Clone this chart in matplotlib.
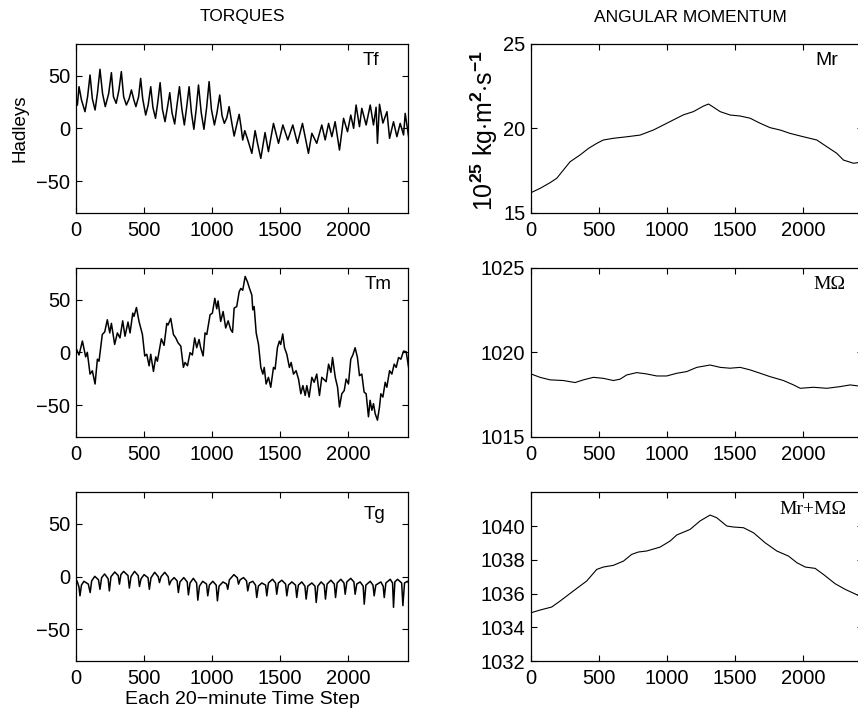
import matplotlib
matplotlib.use('Agg')
import matplotlib.pyplot as plt

plt.rcParams['font.family'] = ['Liberation Sans', 'DejaVu Sans']
plt.rcParams['mathtext.fontset'] = 'custom'
plt.rcParams['mathtext.rm'] = 'Liberation Sans'
plt.rcParams['mathtext.bf'] = 'Liberation Sans:bold'
plt.rcParams['axes.linewidth'] = 0.9

# ---------------- data (time step, value) ----------------
tf_t = [0, 10, 22, 40, 66, 85, 103, 120, 140, 158, 176, 195, 215, 240, 260, 275, 295, 315,
        333, 350, 370, 390, 407, 425, 440, 460, 475, 490, 512, 530, 549, 565, 584, 600,
        618, 635, 654, 672, 689, 705, 725, 742, 760, 778, 796, 813, 831, 848, 866, 883,
        900, 920, 940, 960, 978, 995, 1017, 1036, 1056, 1073, 1090, 1108, 1125, 1145,
        1162, 1180, 1199, 1212, 1225, 1240, 1260, 1292, 1316, 1335, 1358, 1389, 1414,
        1451, 1488, 1520, 1556, 1593, 1627, 1664, 1708, 1733, 1769, 1806, 1831, 1856,
        1880, 1904, 1936, 1966, 1995, 2019, 2040, 2058, 2083, 2100, 2132, 2162, 2186,
        2205, 2215, 2230, 2255, 2285, 2304, 2333, 2358, 2382, 2407, 2419, 2444]
tf_v = [29, 22, 39.5, 27, 15.8, 30, 50.6, 28, 17.4, 34, 56.0, 33, 20.6, 33, 52.8, 30,
        23.7, 36, 53.8, 30, 22.1, 28, 36.4, 27, 20.6, 30, 47.4, 28, 12.6, 22, 39.5, 20,
        9.5, 24, 43.3, 18, 6.3, 20, 33.8, 15, 4.1, 22, 39.5, 18, 3.2, 20, 39.5, 15, -0.9,
        18, 41.1, 15, -0.9, 20, 44.3, 18, 3.2, 15, 31.6, 12, 4.7, 10, 20.6, 5, -7.3, 3,
        13.3, 2, -11.1, -2.2, -10, -23.7, -2.2, -15, -28.5, -4.0, -22.1, 4.7, -14.2, 3.2,
        -11.0, 3.2, -14.2, 4.7, -23.7, -4.7, -14.2, 3.2, -11.0, 4.7, -7.9, 6.3, -20.6,
        9.5, -3.2, 12.6, 0.0, 22.1, 1.6, 19.0, 3.2, 22.1, 3.2, 20.0, -14.2, 22.8, 5.0,
        15.8, -9.5, 6.3, -7.9, 4.7, -6.3, 14.2, -7.9]

tm_t = [0, 22, 47, 71, 83, 103, 120, 140, 157, 169, 193, 211, 230, 248, 260, 284, 304,
        323, 343, 360, 382, 397, 417, 426, 444, 463, 488, 505, 520, 537, 549, 569, 586,
        598, 627, 647, 667, 676, 696, 716, 733, 750, 770, 789, 801, 819, 838, 855, 872,
        887, 904, 916, 934, 948, 961, 985, 1002, 1020, 1034, 1044, 1063, 1081, 1100,
        1118, 1137, 1150, 1162, 1181, 1199, 1211, 1225, 1243, 1260, 1275, 1292, 1299,
        1309, 1324, 1341, 1358, 1373, 1383, 1397, 1414, 1431, 1451, 1463, 1480, 1494,
        1504, 1519, 1532, 1549, 1568, 1581, 1598, 1617, 1635, 1652, 1667, 1684, 1696,
        1713, 1733, 1750, 1769, 1789, 1806, 1838, 1856, 1873, 1885, 1905, 1922, 1936,
        1953, 1971, 1985, 2002, 2019, 2034, 2051, 2068, 2083, 2100, 2117, 2132, 2149,
        2161, 2174, 2186, 2198, 2215, 2230, 2240, 2255, 2272, 2284, 2304, 2321, 2338,
        2353, 2370, 2387, 2407, 2426, 2444]
tm_v = [4, -2.5, 10.7, -4.3, 0, -20.6, -17.5, -30, -6.5, -8.4, 16.9, 19.4, 30.9, 18.4,
        27.5, 7.5, 18.4, 13.7, 29.9, 15.3, 28.7, 18.4, 37.2, 34.1, 42.5, 29.3, 16.9, -3.4,
        -1.8, -12.8, -1.8, -18.1, -4.3, -8.4, 12.8, 6.6, 27.5, 25.9, 32.2, 16.9, 13.7, 9.0,
        5.9, -14.2, -9.6, -12.7, -0.3, -2.5, 13.7, 4.4, 12.2, 4.4, -3.4, 18.4, 16.9, 35.6,
        37.2, 51.2, 41.3, 48.8, 29.3, 38.7, 23.1, 29.9, 21.5, 19.0, 41.9, 43.5, 57.5,
        60.6, 58.9, 72.0, 66.8, 60.6, 54.3, 40.3, 43.4, 18.4, 7.5, -14.3, -20.6, -14.3,
        -30, -23.7, -33.1, -14.3, -15.9, 4.4, 10.6, 7.5, 17.5, 4.4, -1.8, -14.3, -9.6,
        -20.6, -17.4, -25.3, -39.3, -31.5, -40.9, -31.5, -42.4, -23.7, -28.4, -20.6,
        -40.9, -23.7, -27.8, -11.2, -19.0, -4.9, -23.7, -33.1, -51.8, -39.3, -36.2,
        -25.3, -30, -6.5, -2.5, 4.4, -4.9, -22.1, -20.6, -37.7, -39.3, -61.1, -45.5,
        -54.9, -48.7, -58, -64.3, -51.8, -39.3, -42.4, -28.4, -33.1, -17.4, -20.6, -11.2,
        -14.3, -4.9, -6.5, 1.2, 0.6, -14.3]

tg_t = [0, 10, 22, 29, 40, 58, 90, 104, 115, 138, 165, 176, 188, 210, 236, 245, 257, 285,
        310, 319, 330, 350, 382, 392, 404, 430, 457, 466, 478, 500, 529, 539, 551, 578,
        604, 613, 625, 652, 677, 686, 698, 721, 743, 752, 764, 792, 817, 826, 838, 862,
        886, 895, 907, 931, 959, 968, 980, 1005, 1030, 1039, 1051, 1080, 1106, 1115, 1127,
        1160, 1185, 1194, 1206, 1231, 1253, 1262, 1274, 1299, 1319, 1328, 1340, 1365, 1393,
        1402, 1414, 1444, 1466, 1475, 1487, 1512, 1540, 1549, 1561, 1586, 1613, 1622, 1634,
        1659, 1682, 1691, 1703, 1733, 1756, 1765, 1777, 1801, 1824, 1833, 1845, 1873, 1898,
        1907, 1919, 1946, 1969, 1978, 1990, 2019, 2042, 2051, 2063, 2088, 2110, 2118, 2130,
        2162, 2182, 2191, 2203, 2240, 2257, 2265, 2277, 2309, 2326, 2333, 2343, 2363, 2393,
        2402, 2414, 2436, 2444]
tg_v = [-2.5, -5, -10, -18.2, -8, -4.4, -7, -15.1, -4, 0.3, -3, -12.0, -1, 2.5, -2, -13.5,
        0, 4.4, 1, -7.1, 2, 5.0, 1, -10.9, 0, 5.0, 1, -9.3, -2, 1.9, -1, -12.0, -1, 4.1, 0,
        -5.6, 0, 4.1, 0, -7.8, -4, -0.9, -4, -15.1, -5, -0.9, -5, -17.3, -6, -1.6, -6,
        -22.3, -9, -4.4, -7, -18.2, -8, -4.4, -8, -22.9, -9, -5.0, -7, -12.0, -3, 1.9, -1,
        -7.1, -3, -0.9, -4, -13.5, -6, -4.4, -8, -19.8, -9, -6.0, -8, -18.2, -6, -2.5, -6,
        -16.7, -6, -3.4, -7, -18.2, -8, -5.0, -8, -19.8, -8, -5.0, -9, -21.3, -9, -6.0, -9,
        -24.5, -9, -5.0, -8, -21.3, -7, -3.4, -7, -19.8, -6, -2.5, -6, -16.7, -5, -1.6,
        -5, -16.7, -7, -5.0, -9, -26.1, -8, -4.4, -8, -18.2, -8, -5.0, -9, -19.8, -6, -2.5,
        -6, -29.1, -5, -2.5, -6, -27.5, -6, -4.4, -6]

mr_t = [0, 66, 140, 189, 238, 287, 360, 422, 483, 532, 605, 703, 801, 899, 973, 1046,
        1120, 1193, 1267, 1304, 1328, 1390, 1463, 1537, 1610, 1684, 1757, 1831, 1904,
        2002, 2100, 2174, 2247, 2296, 2370, 2404, 2444]
mr_v = [16.19, 16.44, 16.78, 17.04, 17.53, 18.02, 18.42, 18.81, 19.11, 19.31, 19.41,
        19.5, 19.6, 19.9, 20.2, 20.5, 20.8, 20.99, 21.32, 21.44, 21.32, 20.99, 20.79,
        20.73, 20.6, 20.3, 20.04, 19.9, 19.7, 19.5, 19.31, 18.91, 18.52, 18.12, 17.93,
        17.97, 17.95]

mo_t = [0, 66, 140, 238, 324, 385, 459, 532, 605, 654, 703, 777, 850, 924, 997, 1071,
        1144, 1218, 1316, 1390, 1463, 1537, 1610, 1684, 1757, 1855, 1929, 1978, 2076,
        2174, 2272, 2345, 2404, 2444]
mo_v = [1018.72, 1018.52, 1018.37, 1018.33, 1018.21, 1018.37, 1018.52, 1018.46, 1018.33,
        1018.41, 1018.66, 1018.8, 1018.72, 1018.6, 1018.6, 1018.76, 1018.86, 1019.11,
        1019.25, 1019.11, 1019.06, 1019.11, 1018.96, 1018.76, 1018.56, 1018.33, 1018.07,
        1017.87, 1017.93, 1017.87, 1017.97, 1018.07, 1018.01, 1018.0]

mt_t = [0, 66, 152, 213, 311, 409, 483, 532, 605, 679, 740, 789, 850, 948, 1022, 1071,
        1169, 1242, 1316, 1365, 1439, 1488, 1561, 1635, 1720, 1806, 1892, 1953, 2015,
        2088, 2149, 2235, 2308, 2404, 2444]
mt_v = [1034.86, 1035.02, 1035.2, 1035.55, 1036.15, 1036.74, 1037.43, 1037.57, 1037.67,
        1037.92, 1038.32, 1038.46, 1038.52, 1038.75, 1039.11, 1039.47, 1039.8, 1040.3,
        1040.65, 1040.49, 1040.0, 1039.94, 1039.9, 1039.6, 1039.01, 1038.52, 1038.22,
        1037.83, 1037.57, 1037.49, 1037.13, 1036.58, 1036.25, 1035.89, 1035.8]

left_names = ['Tf', 'Tm', 'Tg']
right_names = ['Mr', 'M\u03a9', 'Mr+M\u03a9']
x_ticks = [0, 500, 1000, 1500, 2000]
torque_ticks = [-50, 0, 50]
right_ticks = [[15, 20, 25], [1015, 1020, 1025], [1032, 1034, 1036, 1038, 1040]]
right_lims = [(15, 25), (1015, 1025), (1032, 1042)]
# -------------------------------------------------------------------------------

fig = plt.figure(figsize=(8.58, 7.15), dpi=100)
lefts = [0.0886, 0.6189]
bottoms = [0.7025, 0.3892, 0.0755]
W, H = 0.387, 0.236
FS = 14.5

def style(ax):
    ax.tick_params(direction='in', top=True, right=True, length=4, width=0.8,
                   labelsize=FS, colors='black')
    ax.tick_params(axis='x', pad=6)
    ax.tick_params(axis='y', pad=4)
    ax.set_xlim(0, 2440)
    ax.set_xticks(x_ticks)

left_data = [(tf_t, tf_v), (tm_t, tm_v), (tg_t, tg_v)]
left_lab_pos = [(0.889, 0.90), (0.91, 0.90), (0.90, 0.87)]
for i, (t, v) in enumerate(left_data):
    ax = fig.add_axes([lefts[0], bottoms[i], W, H])
    ax.plot(t, v, color='black', lw=1.1)
    style(ax)
    ax.set_ylim(-80, 80)
    ax.set_yticks(torque_ticks)
    ax.text(left_lab_pos[i][0], left_lab_pos[i][1], left_names[i], transform=ax.transAxes,
            ha='center', va='center', fontsize=13.5)

right_data = [(mr_t, mr_v), (mo_t, mo_v), (mt_t, mt_v)]
right_lab_pos = [(0.892, 0.90), (0.898, 0.90), (0.85, 0.895)]
for i, (t, v) in enumerate(right_data):
    ax = fig.add_axes([lefts[1], bottoms[i], W, H])
    ax.plot(t, v, color='black', lw=0.8)
    style(ax)
    ax.set_ylim(*right_lims[i])
    ax.set_yticks(right_ticks[i])
    fam = ['Liberation Sans'] if i == 0 else ['Liberation Serif']
    ax.text(right_lab_pos[i][0], right_lab_pos[i][1], right_names[i], transform=ax.transAxes,
            ha='center', va='center', fontsize=14, family=fam)

fig.text(242 / 858, 1 - 17 / 715, 'TORQUES', ha='center', va='center', fontsize=12.5)
fig.text(690 / 858, 1 - 17 / 715, 'ANGULAR MOMENTUM', ha='center', va='center', fontsize=12.5)
fig.text(20 / 858, 1 - 128 / 715, 'Hadleys', rotation=90, ha='center', va='center',
         fontsize=13.5)
fig.text(484 / 858, 1 - 130 / 715,
         r'10$^{\mathbf{25}}$ kg$\cdot$m$^{\mathbf{2}}$$\cdot$s$^{\mathbf{-1}}$',
         rotation=90, ha='center', va='center', fontsize=18)
fig.text(242 / 858, 1 - 699 / 715, 'Each 20\u2212minute Time Step', ha='center', va='center',
         fontsize=14)

fig.savefig('out.png', dpi=100, facecolor='white')
